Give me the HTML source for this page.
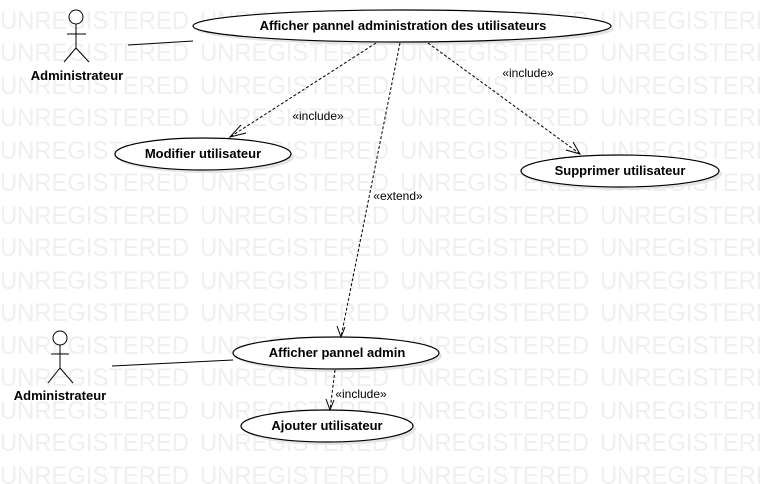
<!DOCTYPE html>
<html><head><meta charset="utf-8"><style>
html,body{margin:0;padding:0;background:#fff;}
svg{display:block;}
.wm{font-family:"Liberation Sans",sans-serif;font-size:25px;fill:#efefef;}
.t{font-family:"Liberation Sans",sans-serif;font-size:13px;font-weight:bold;fill:#000;text-anchor:middle;}
.s{font-family:"Liberation Sans",sans-serif;font-size:12px;fill:#000;text-anchor:middle;}
</style></head><body>
<svg width="760" height="484" viewBox="0 0 760 484" xmlns="http://www.w3.org/2000/svg">
<defs>
<g id="row">
<text x="0" y="0" textLength="189" lengthAdjust="spacingAndGlyphs">UNREGISTERED</text>
<text x="200" y="0" textLength="189" lengthAdjust="spacingAndGlyphs">UNREGISTERED</text>
<text x="400" y="0" textLength="189" lengthAdjust="spacingAndGlyphs">UNREGISTERED</text>
<text x="600" y="0" textLength="189" lengthAdjust="spacingAndGlyphs">UNREGISTERED</text>
</g>
</defs>
<g class="wm">
<use href="#row" y="29"/><use href="#row" y="61"/><use href="#row" y="94"/><use href="#row" y="126"/>
<use href="#row" y="159"/><use href="#row" y="191"/><use href="#row" y="224"/><use href="#row" y="256"/>
<use href="#row" y="289"/><use href="#row" y="321"/><use href="#row" y="354"/><use href="#row" y="386"/>
<use href="#row" y="419"/><use href="#row" y="451"/><use href="#row" y="484"/>
</g>
<g fill="#e4e4e4">
<ellipse cx="405" cy="29" rx="209" ry="16"/>
<ellipse cx="206" cy="157" rx="88" ry="16"/>
<ellipse cx="623" cy="174" rx="99" ry="16"/>
<ellipse cx="339" cy="356" rx="103" ry="16"/>
<ellipse cx="330" cy="429" rx="86" ry="16"/>
</g>
<g fill="#fff" stroke="#000" stroke-width="1.2">
<ellipse cx="402" cy="26" rx="209" ry="16"/>
<ellipse cx="203" cy="154" rx="88" ry="16"/>
<ellipse cx="620" cy="171" rx="99" ry="16"/>
<ellipse cx="336" cy="353" rx="103" ry="16"/>
<ellipse cx="327" cy="426" rx="86" ry="16"/>
</g>
<text class="t" x="403" y="30">Afficher pannel administration des utilisateurs</text>
<text class="t" x="203" y="158">Modifier utilisateur</text>
<text class="t" x="620" y="175">Supprimer utilisateur</text>
<text class="t" x="337" y="357">Afficher pannel admin</text>
<text class="t" x="327" y="430">Ajouter utilisateur</text>
<g stroke="#000" stroke-width="1" fill="none">
<circle cx="76" cy="17" r="7" fill="#fff"/>
<line x1="76" y1="24" x2="76" y2="48"/>
<line x1="67" y1="34" x2="86" y2="34"/>
<line x1="76" y1="48" x2="64" y2="62"/>
<line x1="76" y1="48" x2="89" y2="62"/>
<line x1="128" y1="45" x2="193" y2="41"/>
<circle cx="60" cy="338" r="7" fill="#fff"/>
<line x1="60" y1="345" x2="60" y2="368"/>
<line x1="51" y1="354" x2="69" y2="354"/>
<line x1="60" y1="368" x2="48" y2="383"/>
<line x1="60" y1="368" x2="73" y2="383"/>
<line x1="112" y1="366" x2="233" y2="360"/>
</g>
<text class="t" x="77" y="80">Administrateur</text>
<text class="t" x="60" y="400">Administrateur</text>
<g stroke="#000" stroke-width="1" fill="none" stroke-dasharray="3,2">
<line x1="376" y1="43" x2="230" y2="137"/>
<line x1="428" y1="43" x2="580" y2="154"/>
<line x1="400" y1="43" x2="341" y2="337"/>
<line x1="335" y1="370" x2="330" y2="410"/>
</g>
<g stroke="#000" stroke-width="1" fill="none">
<polyline points="241,125 230,137 246,133"/>
<polyline points="566,150 580,154 573,142"/>
<polyline points="337,326 341,337 345,327"/>
<polyline points="326,399 330,410 334,400"/>
</g>
<text class="s" x="318" y="120">«include»</text>
<text class="s" x="528" y="77">«include»</text>
<text class="s" x="398" y="200">«extend»</text>
<text class="s" x="361" y="398">«include»</text>
</svg>
</body></html>
